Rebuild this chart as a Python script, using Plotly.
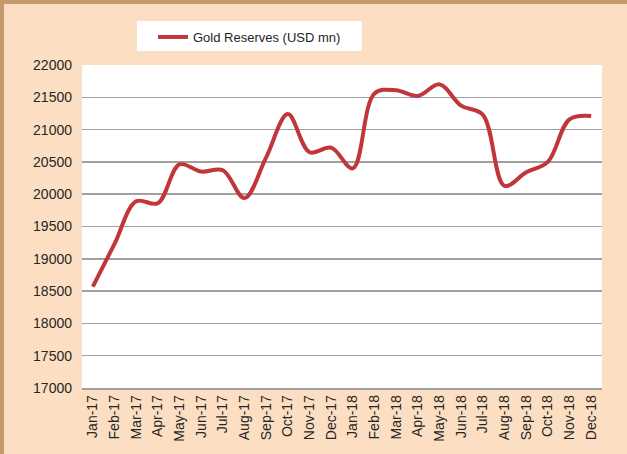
import plotly.graph_objects as go

months = ["Jan-17", "Feb-17", "Mar-17", "Apr-17", "May-17", "Jun-17", "Jul-17", "Aug-17",
          "Sep-17", "Oct-17", "Nov-17", "Dec-17", "Jan-18", "Feb-18", "Mar-18", "Apr-18",
          "May-18", "Jun-18", "Jul-18", "Aug-18", "Sep-18", "Oct-18", "Nov-18", "Dec-18"]
gold_reserves = [18570, 19230, 19890, 19860, 20460, 20350, 20370, 19940,
                 20570, 21240, 20650, 20720, 20400, 21560, 21610, 21520,
                 21700, 21370, 21230, 20130, 20340, 20500, 21160, 21210]
y_ticks = [17000, 17500, 18000, 18500, 19000, 19500, 20000, 20500, 21000, 21500, 22000]
y_tick_labels = [str(v) for v in y_ticks]

W, H = 627, 454
L, R, T, B = 82, 25, 65, 66
pw, ph = W - L - R, H - T - B

def px(X):
    return (X - L) / pw

def py(Y):
    return (H - B - Y) / ph

fig = go.Figure()
fig.add_trace(go.Scatter(
    x=months, y=gold_reserves, mode="lines", name="Gold Reserves (USD mn)",
    line=dict(color="#C0363A", width=4, shape="spline", smoothing=1),
))

shapes = [
    dict(type="rect", xref="paper", yref="paper", x0=px(137), x1=px(362), y0=py(51), y1=py(21),
         fillcolor="white", line=dict(width=0), layer="below"),
    dict(type="rect", xref="paper", yref="paper", x0=px(0), x1=px(W), y0=py(4), y1=py(0),
         fillcolor="#C49A6C", line=dict(width=0), layer="below"),
    dict(type="rect", xref="paper", yref="paper", x0=px(0), x1=px(4), y0=py(H), y1=py(0),
         fillcolor="#C49A6C", line=dict(width=0), layer="below"),
]

fig.update_layout(
    width=W, height=H,
    margin=dict(l=L, r=R, t=T, b=B, pad=0),
    paper_bgcolor="#FCDFC2", plot_bgcolor="white",
    font=dict(family="Liberation Sans, Arial, sans-serif", color="#262626", size=14),
    showlegend=True,
    legend=dict(orientation="h", x=px(153), xanchor="left", y=py(37), yanchor="middle",
                bgcolor="rgba(0,0,0,0)", font=dict(size=13, color="#1E1E1E")),
    shapes=shapes,
    xaxis=dict(type="category", tickangle=-90, showgrid=False, showline=True,
               linecolor="#A0A0A0", linewidth=1.5, ticks="", tickfont=dict(size=14),
               range=[-0.5, len(months) - 0.5], fixedrange=True),
    yaxis=dict(range=[17000, 22000], tickvals=y_ticks, ticktext=y_tick_labels,
               showgrid=True, gridcolor="#A0A0A0",
               gridwidth=1.5, zeroline=False, showline=False, ticks="", ticklabelstandoff=9,
               tickfont=dict(size=14), fixedrange=True),
)

fig.write_html("out.html", config={"displayModeBar": False, "staticPlot": True},
               post_script="document.body.style.margin='0';document.body.style.padding='0';")
